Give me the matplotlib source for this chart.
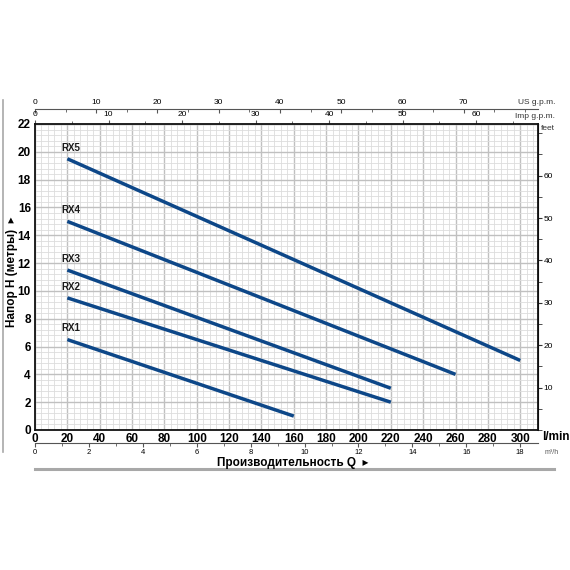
import matplotlib
matplotlib.use("Agg")
import matplotlib.pyplot as plt
import numpy as np
from matplotlib.ticker import MultipleLocator

plt.rcParams['font.family'] = ['Liberation Sans Narrow', 'Liberation Sans', 'DejaVu Sans']

# pump curves: flow (l/min) vs head (m)
curve_names = ['RX1', 'RX2', 'RX3', 'RX4', 'RX5']
flow_q = [[20, 160], [20, 220], [20, 220], [20, 260], [20, 300]]
head_h = [[6.5, 1.0], [9.5, 2.0], [11.5, 3.0], [15.0, 4.0], [19.5, 5.0]]

x_ticks = list(range(0, 301, 20))
y_ticks = list(range(0, 23, 2))
us_ticks = list(range(0, 71, 10))
imp_ticks = list(range(0, 61, 10))
m3h_ticks = list(range(0, 19, 2))
feet_ticks = list(range(10, 61, 10))

line_color = '#0d4788'

fig = plt.figure(figsize=(5.7, 5.7), dpi=100)
ax = fig.add_axes([35/570, 1-430/570, (538-35)/570, (430-124)/570])
ax.set_xlim(0, 311)
ax.set_ylim(0, 22)

ax.xaxis.set_major_locator(MultipleLocator(20))
ax.xaxis.set_minor_locator(MultipleLocator(4))
ax.yaxis.set_major_locator(MultipleLocator(2))
ax.yaxis.set_minor_locator(MultipleLocator(0.4))
ax.grid(which='major', color='#c0c0c0', linewidth=1.0)
ax.grid(which='minor', color='#dddddd', linewidth=0.6)
ax.set_axisbelow(True)

for name, q, h in zip(curve_names, flow_q, head_h):
    ax.plot(q, h, color=line_color, linewidth=2.5, solid_capstyle='butt')
    ax.text(q[0] - 4, h[0] + 0.45, name, fontsize=7, color='#1a1a1a',
            fontweight='bold', ha='left', va='bottom')

ax.set_xticks(x_ticks)
ax.set_yticks(y_ticks)
ax.tick_params(axis='x', which='both', length=0, pad=2, labelsize=8.5)
ax.tick_params(axis='y', which='both', length=0, pad=3, labelsize=8.5)
for lab in ax.get_xticklabels() + ax.get_yticklabels():
    lab.set_fontweight('bold')
for sp in ax.spines.values():
    sp.set_linewidth(1.3)
    sp.set_color('#111111')

# top axes: US g.p.m. and Imp g.p.m.
us = ax.secondary_xaxis(1 + 15/306, functions=(lambda x: x * 0.264172, lambda g: g / 0.264172))
us.set_xticks(us_ticks)
us.xaxis.set_minor_locator(MultipleLocator(5))
us.tick_params(which='major', direction='in', length=3, labelsize=6, pad=2, color='#555555')
us.tick_params(which='minor', direction='in', length=2, color='#555555')
us.spines['top'].set_linewidth(0.8)
us.spines['top'].set_color('#555555')

imp = ax.secondary_xaxis('top', functions=(lambda x: x * 0.219969, lambda g: g / 0.219969))
imp.set_xticks(imp_ticks)
imp.xaxis.set_minor_locator(MultipleLocator(5))
imp.tick_params(which='major', direction='out', length=3, labelsize=6, pad=1, color='#555555')
imp.tick_params(which='minor', direction='out', length=2, color='#555555')

# bottom m3/h axis
m3 = ax.secondary_xaxis(-13/306, functions=(lambda x: x * 0.06, lambda m: m / 0.06))
m3.set_xticks(m3h_ticks)
m3.xaxis.set_minor_locator(MultipleLocator(1))
m3.tick_params(which='major', direction='out', length=3, labelsize=5.5, pad=1, color='#555555')
m3.tick_params(which='minor', direction='out', length=2, color='#555555')
m3.spines['bottom'].set_linewidth(0.8)
m3.spines['bottom'].set_color('#555555')

# right feet axis
ft = ax.secondary_yaxis('right', functions=(lambda m: m * 3.28084, lambda f: f / 3.28084))
ft.set_yticks(feet_ticks)
ft.yaxis.set_minor_locator(MultipleLocator(5))
ft.tick_params(which='major', direction='out', length=3, labelsize=6, pad=1, color='#333333')
ft.tick_params(which='minor', direction='out', length=3, color='#333333')

fig.text(555/570, 1-103/570, 'US g.p.m.', fontsize=6, ha='right', va='center', color='#333333')
fig.text(555/570, 1-117/570, 'Imp g.p.m.', fontsize=6, ha='right', va='center', color='#333333')
fig.text(541/570, 1-128/570, 'feet', fontsize=6, ha='left', va='center', color='#333333')
fig.text(542/570, 1-437/570, 'l/min', fontsize=8.5, fontweight='bold', ha='left', va='center')
fig.text(545/570, 1-452/570, 'm³/h', fontsize=5, ha='left', va='center', color='#555555')
fig.text(293/570, 1-463/570, 'Производительность Q  ▸', fontsize=8.5, fontweight='bold',
         ha='center', va='center', family=['Liberation Sans', 'DejaVu Sans'])
fig.text(12/570, 1-272/570, 'Напор H (метры)  ▸', fontsize=8.5, fontweight='bold',
         ha='center', va='center', rotation=90, family=['Liberation Sans', 'DejaVu Sans'])

# decorative frame lines
fig.add_artist(plt.Line2D([35/570, 554/570], [1-469/570, 1-469/570], color='#a8a8a8', linewidth=2.2))
fig.add_artist(plt.Line2D([3/570, 3/570], [1-100/570, 1-452/570], color='#a8a8a8', linewidth=1.2))

fig.savefig('out.png', dpi=100)
